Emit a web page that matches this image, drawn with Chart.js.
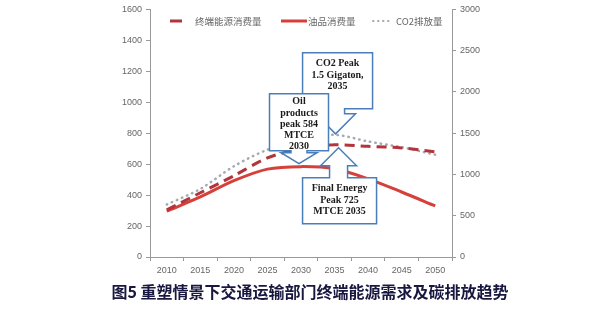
<!DOCTYPE html>
<html>
<head>
<meta charset="utf-8">
<script src="https://cdn.jsdelivr.net/npm/chart.js@4/dist/chart.umd.min.js"></script>
<style>
  html, body { margin: 0; padding: 0; background: #fff; }
  #wrap { position: relative; width: 600px; height: 324px; }
</style>
</head>
<body>
<div id="wrap"><canvas id="chart_trend"></canvas></div>
<script>
const years = ['2010', '2015', '2020', '2025', '2030', '2035', '2040', '2045', '2050'];
const finalEnergy = [305, 415, 525, 640, 700, 725, 715, 705, 680];
const oilProducts = [296, 388, 493, 568, 584, 570, 505, 420, 330];
const co2Emissions = [636, 825, 1100, 1300, 1420, 1480, 1400, 1330, 1240];

const seriesNames = ['终端能源消费量', '油品消费量', 'CO2排放量'];
const chartTitle = '图5 重塑情景下交通运输部门终端能源需求及碳排放趋势';

const darkRed = '#B3343A';
const red = '#D5403A';
const grey = '#A3AAB2';
const boxBlue = '#4A7EBB';

// down / up block-arrow callout, tip at (tx, ty)
function callout(ctx, tx, ty, o) {
    const dir = o.dir; // 1 = arrow points down, -1 = up
    const cx = tx + (o.dx || 0);
    const left = cx - o.w / 2, right = cx + o.w / 2;
    const near = ty - dir * o.gap;       // box edge nearest the tip
    const far = near - dir * o.h;        // opposite box edge
    const head = ty - dir * o.head;      // arrow head base
    ctx.save();
    ctx.beginPath();
    ctx.moveTo(left, far);
    ctx.lineTo(right, far);
    ctx.lineTo(right, near);
    ctx.lineTo(tx + o.stem, near);
    ctx.lineTo(tx + o.stem, head);
    ctx.lineTo(tx + o.hw, head);
    ctx.lineTo(tx, ty);
    ctx.lineTo(tx - o.hw, head);
    ctx.lineTo(tx - o.stem, head);
    ctx.lineTo(tx - o.stem, near);
    ctx.lineTo(left, near);
    ctx.closePath();
    ctx.fillStyle = '#fff';
    ctx.fill();
    ctx.strokeStyle = boxBlue;
    ctx.lineWidth = 1.5;
    ctx.stroke();
    ctx.fillStyle = '#1a1a1a';
    ctx.font = 'bold 10px "Liberation Serif", serif';
    ctx.textAlign = 'center';
    ctx.textBaseline = 'middle';
    const top = Math.min(near, far);
    o.lines.forEach((t, i) => ctx.fillText(t, cx, top + o.ty0 + i * o.lh));
    ctx.restore();
}

const extras = {
    id: 'extras',
    afterDatasetsDraw(chart) {
        const ctx = chart.ctx;
        const x = chart.scales.x, y = chart.scales.y, y1 = chart.scales.y1;

        // callouts
        callout(ctx, x.getPixelForValue(5) + 1, y1.getPixelForValue(co2Emissions[5]) - 1, {
            dir: 1, dx: 2, w: 70, h: 56, gap: 25, head: 20, hw: 20, stem: 9,
            ty0: 11, lh: 11.5, lines: ['CO2 Peak', '1.5 Gigaton,', '2035']
        });
        callout(ctx, x.getPixelForValue(4) - 2, y.getPixelForValue(oilProducts[4]) - 3, {
            dir: 1, dx: 0, w: 59, h: 57, gap: 13, head: 11, hw: 18, stem: 8,
            ty0: 8, lh: 11.3, lines: ['Oil', 'products', 'peak 584', 'MTCE', '2030']
        });
        callout(ctx, x.getPixelForValue(5) + 4, y.getPixelForValue(finalEnergy[5]) + 3, {
            dir: -1, dx: 1, w: 74, h: 46, gap: 30, head: 18, hw: 18, stem: 9,
            ty0: 11, lh: 11.3, lines: ['Final Energy', 'Peak 725', 'MTCE 2035']
        });

        // legend
        ctx.save();
        ctx.lineWidth = 3;
        ctx.strokeStyle = darkRed;
        ctx.beginPath(); ctx.moveTo(170, 21); ctx.lineTo(182, 21); ctx.stroke();
        ctx.strokeStyle = red;
        ctx.beginPath(); ctx.moveTo(281, 21); ctx.lineTo(307, 21); ctx.stroke();
        ctx.strokeStyle = grey;
        ctx.lineWidth = 2;
        ctx.lineCap = 'round';
        ctx.setLineDash([0.5, 4.5]);
        ctx.beginPath(); ctx.moveTo(373, 21); ctx.lineTo(393, 21); ctx.stroke();
        ctx.setLineDash([]);
        ctx.fillStyle = '#666';
        ctx.font = '9.5px "Noto Sans CJK SC", sans-serif';
        ctx.textBaseline = 'middle';
        ctx.textAlign = 'left';
        ctx.fillText(seriesNames[0], 195, 21);
        ctx.fillText(seriesNames[1], 308, 21);
        ctx.fillText(seriesNames[2], 396, 21);

        // caption
        ctx.fillStyle = '#17173f';
        ctx.font = 'bold 16px "Noto Sans CJK SC", sans-serif';
        ctx.textAlign = 'center';
        ctx.fillText(chartTitle, 310, 292);
        ctx.restore();
    }
};

const tickFont = { family: '"Liberation Sans", sans-serif', size: 9 };
const plainNumber = { useGrouping: false };

const config = {
    type: 'line',
    data: {
        labels: years,
        datasets: [{
            label: seriesNames[0],
            data: finalEnergy,
            borderColor: darkRed,
            borderWidth: 3,
            borderDash: [10, 6],
            yAxisID: 'y',
        }, {
            label: seriesNames[1],
            data: oilProducts,
            borderColor: red,
            borderWidth: 3,
            yAxisID: 'y',
        }, {
            label: seriesNames[2],
            data: co2Emissions,
            borderColor: grey,
            borderWidth: 2.5,
            borderDash: [0.5, 5],
            borderCapStyle: 'round',
            yAxisID: 'y1',
        }]
    },
    options: {
        responsive: false,
        animation: false,
        layout: { padding: { top: 8, left: 0, right: 0, bottom: 0 } },
        elements: {
            point: { radius: 0 },
            line: { tension: 0.3, fill: false }
        },
        scales: {
            x: {
                offset: true,
                grid: { offset: true, drawOnChartArea: false, tickLength: 4, color: '#999' },
                border: { color: '#999' },
                ticks: { color: '#666', font: tickFont, padding: 4, maxRotation: 0 },
                afterFit(s) { s.height = 67; }
            },
            y: {
                position: 'left',
                min: 0, max: 1600,
                ticks: { stepSize: 200, color: '#666', font: tickFont, padding: 4, format: plainNumber },
                grid: { drawOnChartArea: false, tickLength: 4, color: '#999' },
                border: { color: '#999' },
                afterFit(s) { s.width = 150; }
            },
            y1: {
                position: 'right',
                min: 0, max: 3000,
                ticks: { stepSize: 500, color: '#666', font: tickFont, padding: 4, format: plainNumber },
                grid: { drawOnChartArea: false, tickLength: 4, color: '#999' },
                border: { color: '#999' },
                afterFit(s) { s.width = 148; }
            }
        },
        plugins: {
            legend: { display: false },
            tooltip: { enabled: false }
        }
    },
    plugins: [extras]
};

const canvas = document.getElementById('chart_trend');
canvas.width = 600;
canvas.height = 324;
const trendChart = new Chart(canvas, config);
</script>
</body>
</html>
